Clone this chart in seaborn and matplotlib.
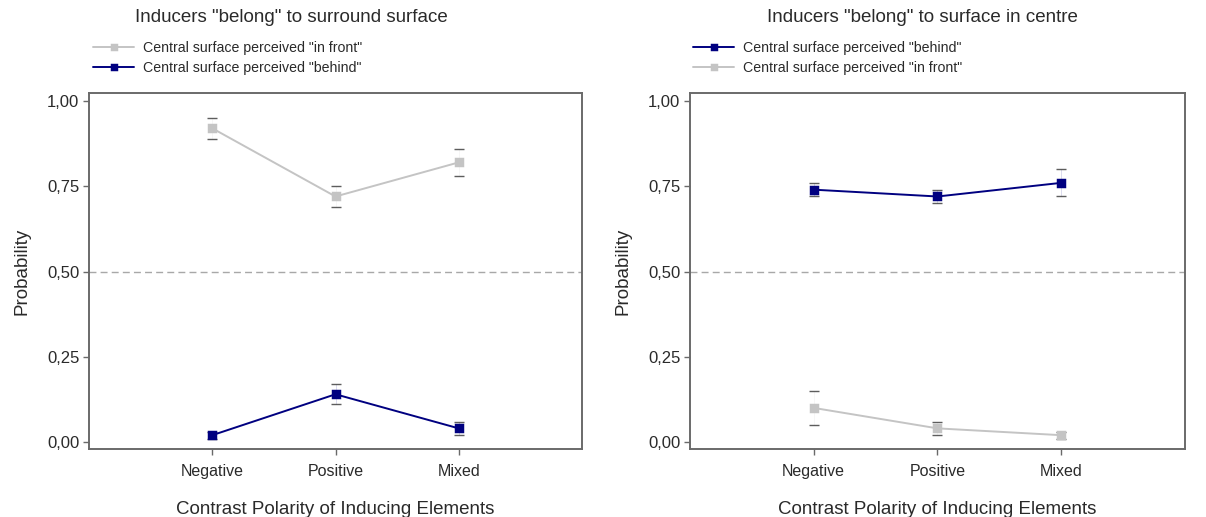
import matplotlib
matplotlib.use("Agg")
import matplotlib.pyplot as plt
import seaborn as sns
import pandas as pd
import numpy as np

categories = ["Negative", "Positive", "Mixed"]
series_front = 'Central surface perceived "in front"'
series_behind = 'Central surface perceived "behind"'

# Left panel: Inducers "belong" to surround surface
left_front = [0.92, 0.72, 0.82]
left_front_lo = [0.89, 0.69, 0.78]
left_front_hi = [0.95, 0.75, 0.86]
left_behind = [0.02, 0.14, 0.04]
left_behind_lo = [0.01, 0.11, 0.02]
left_behind_hi = [0.03, 0.17, 0.06]

# Right panel: Inducers "belong" to surface in centre
right_behind = [0.74, 0.72, 0.76]
right_behind_lo = [0.72, 0.70, 0.72]
right_behind_hi = [0.76, 0.74, 0.80]
right_front = [0.10, 0.04, 0.02]
right_front_lo = [0.05, 0.02, 0.01]
right_front_hi = [0.15, 0.06, 0.03]

yticks = [0.0, 0.25, 0.5, 0.75, 1.0]
ytick_labels = ["0,00", "0,25", "0,50", "0,75", "1,00"]

titles = ['Inducers "belong" to surround surface', 'Inducers "belong" to surface in centre']
xlabel = "Contrast Polarity of Inducing Elements"
ylabel = "Probability"

NAVY = "#000080"
GRAY = "#c4c4c4"
SPINE = "#6a6a6a"
CAP = "#404040"
TXT = "#2a2a2a"

sns.set_theme(style="white")
plt.rcParams["font.family"] = ["Liberation Sans", "DejaVu Sans"]

fig = plt.figure(figsize=(12.06, 5.17), dpi=100)
W, H = 1206, 517
ax_top, ax_bot = 93, 449
axes = [
    fig.add_axes([89 / W, 1 - ax_bot / H, (582 - 89) / W, (ax_bot - ax_top) / H]),
    fig.add_axes([690 / W, 1 - ax_bot / H, (1185 - 690) / W, (ax_bot - ax_top) / H]),
]

panels = [
    dict(order=[series_front, series_behind],
         data={series_front: (left_front, left_front_lo, left_front_hi),
               series_behind: (left_behind, left_behind_lo, left_behind_hi)},
         title_x=291, legend_x=93),
    dict(order=[series_behind, series_front],
         data={series_behind: (right_behind, right_behind_lo, right_behind_hi),
               series_front: (right_front, right_front_lo, right_front_hi)},
         title_x=922, legend_x=693),
]
colors = {series_front: GRAY, series_behind: NAVY}

for ax, p in zip(axes, panels):
    rows = []
    for s in p["order"]:
        vals = p["data"][s][0]
        for c, v in zip(categories, vals):
            rows.append({"cond": c, "p": v, "series": s})
    df = pd.DataFrame(rows)
    ax.axhline(0.5, color="#a8a8a8", lw=1.0, ls=(0, (5, 3)), zorder=0)
    sns.pointplot(data=df, x="cond", y="p", hue="series", order=categories,
                  hue_order=p["order"], palette=colors, markers="s",
                  errorbar=None, ax=ax, markersize=6, linewidth=1.4)
    for s in p["order"]:
        vals, lo, hi = p["data"][s]
        vals = np.array(vals); lo = np.array(lo); hi = np.array(hi)
        ax.errorbar(np.arange(len(categories)), vals, yerr=[vals - lo, hi - vals],
                    fmt="none", ecolor=colors[s], elinewidth=0.4, capsize=0,
                    zorder=1, alpha=0.25)
        ax.errorbar(np.arange(len(categories)), vals, yerr=[vals - lo, hi - vals],
                    fmt="none", ecolor=CAP, elinewidth=0, capsize=3.5,
                    capthick=1.0, zorder=1, alpha=0.85)
    ax.set_xlim(-1, 3)
    ax.set_ylim(-0.0205, 1.0235)
    ax.set_yticks(yticks)
    ax.set_yticklabels(ytick_labels)
    ax.set_xlabel(xlabel, fontsize=13.5, color=TXT, labelpad=16)
    ax.set_ylabel(ylabel, fontsize=13.5, color=TXT, labelpad=12)
    ax.tick_params(axis="x", labelsize=11.5, pad=7)
    ax.tick_params(axis="y", labelsize=12, pad=3)
    ax.tick_params(axis="both", which="both", left=True, bottom=True,
                   length=4, width=1, color=SPINE,
                   labelcolor=TXT, direction="out")
    for sp in ax.spines.values():
        sp.set_color(SPINE)
        sp.set_linewidth(1.4)
        sp.set_visible(True)
    handles, labels = ax.get_legend_handles_labels()
    ax.legend(handles, labels, loc="upper left",
              bbox_to_anchor=(p["legend_x"] / W, 1 - 41 / H),
              bbox_transform=fig.transFigure, frameon=False, fontsize=10.2,
              borderpad=0, borderaxespad=0, handlelength=2.9,
              handletextpad=0.6, labelspacing=0.45, labelcolor=TXT,
              markerscale=0.8)

for t, p in zip(titles, panels):
    fig.text(p["title_x"] / W, 1 - 18 / H, t, ha="center", va="center",
             fontsize=13.5, color=TXT)

fig.savefig("out.png", dpi=100)
